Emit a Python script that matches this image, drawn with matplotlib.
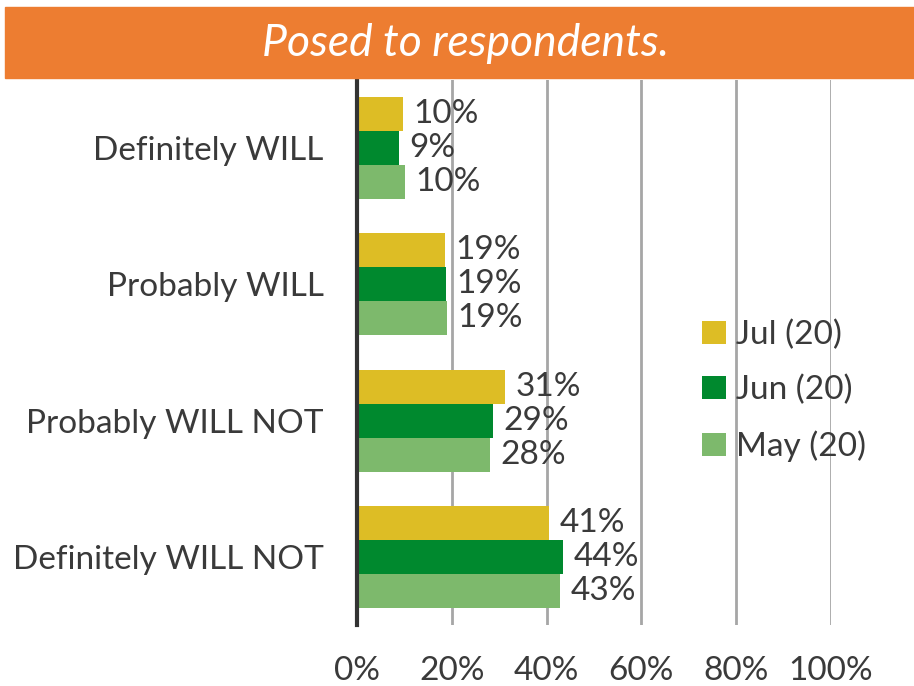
import matplotlib.pyplot as plt
import numpy as np
from matplotlib.patches import Rectangle

categories = ["Definitely WILL", "Probably WILL", "Probably WILL NOT", "Definitely WILL NOT"]
series = ["Jul (20)", "Jun (20)", "May (20)"]
jul = [9.6, 18.6, 31.2, 40.6]
jun = [8.8, 18.7, 28.7, 43.5]
may = [10.2, 18.9, 28.1, 42.8]
colors = ["#DDBD25", "#00892E", "#7DB96C"]
xticks = [0, 20, 40, 60, 80, 100]
title = "Posed to respondents."

plt.rcParams["font.family"] = ["Lato", "DejaVu Sans"]
TEXT = "#3a3a3a"


def main() -> None:
    fig = plt.figure(figsize=(9.14, 6.86), dpi=100)
    ax = fig.add_axes([0.3906, 0.0889, 0.5186, 0.7945])

    # orange banner across the top
    fig.patches.append(Rectangle((5 / 914, 1 - 78 / 686), 909 / 914, 71 / 686,
                                 transform=fig.transFigure, color="#ED7D31", zorder=0))
    fig.text(0.509, 1 - 43 / 686, title, color="white", fontsize=32, style="italic",
             ha="center", va="center")

    y = np.arange(len(categories))
    h = 0.25
    for i, (name, vals) in enumerate(zip(series, [jul, jun, may])):
        pos = y + (i - 1) * h
        ax.barh(pos, vals, height=h, color=colors[i], label=name, zorder=3)
        for p, v in zip(pos, vals):
            ax.text(v + 2.2, p, f"{v:.0f}%", va="center", ha="left",
                    fontsize=24, color=TEXT, zorder=4)

    ax.set_ylim(len(categories) - 0.5, -0.5)
    ax.set_xlim(0, 100)
    ax.set_yticks(y)
    ax.set_yticklabels(categories, fontsize=24, color=TEXT)
    ax.set_xticks(xticks)
    ax.set_xticklabels([f"{t}%" for t in xticks], fontsize=24, color=TEXT)
    ax.tick_params(axis="both", length=0)
    ax.tick_params(axis="x", pad=22)
    ax.tick_params(axis="y", pad=24)

    ax.grid(axis="x", color="#a6a6a6", linewidth=2, zorder=0)
    for s in ["top", "right", "bottom"]:
        ax.spines[s].set_visible(False)
    ax.spines["left"].set_color("#333333")
    ax.spines["left"].set_linewidth(3)
    ax.spines["left"].set_zorder(5)

    ax.legend(loc="center left", bbox_to_anchor=(0.665, 0.43), frameon=False,
              fontsize=24, labelcolor=TEXT, handlelength=0.7, handleheight=0.7,
              handletextpad=0.3, labelspacing=0.75)

    fig.savefig("out.png", dpi=100)
    plt.close(fig)


if __name__ == "__main__":
    main()
